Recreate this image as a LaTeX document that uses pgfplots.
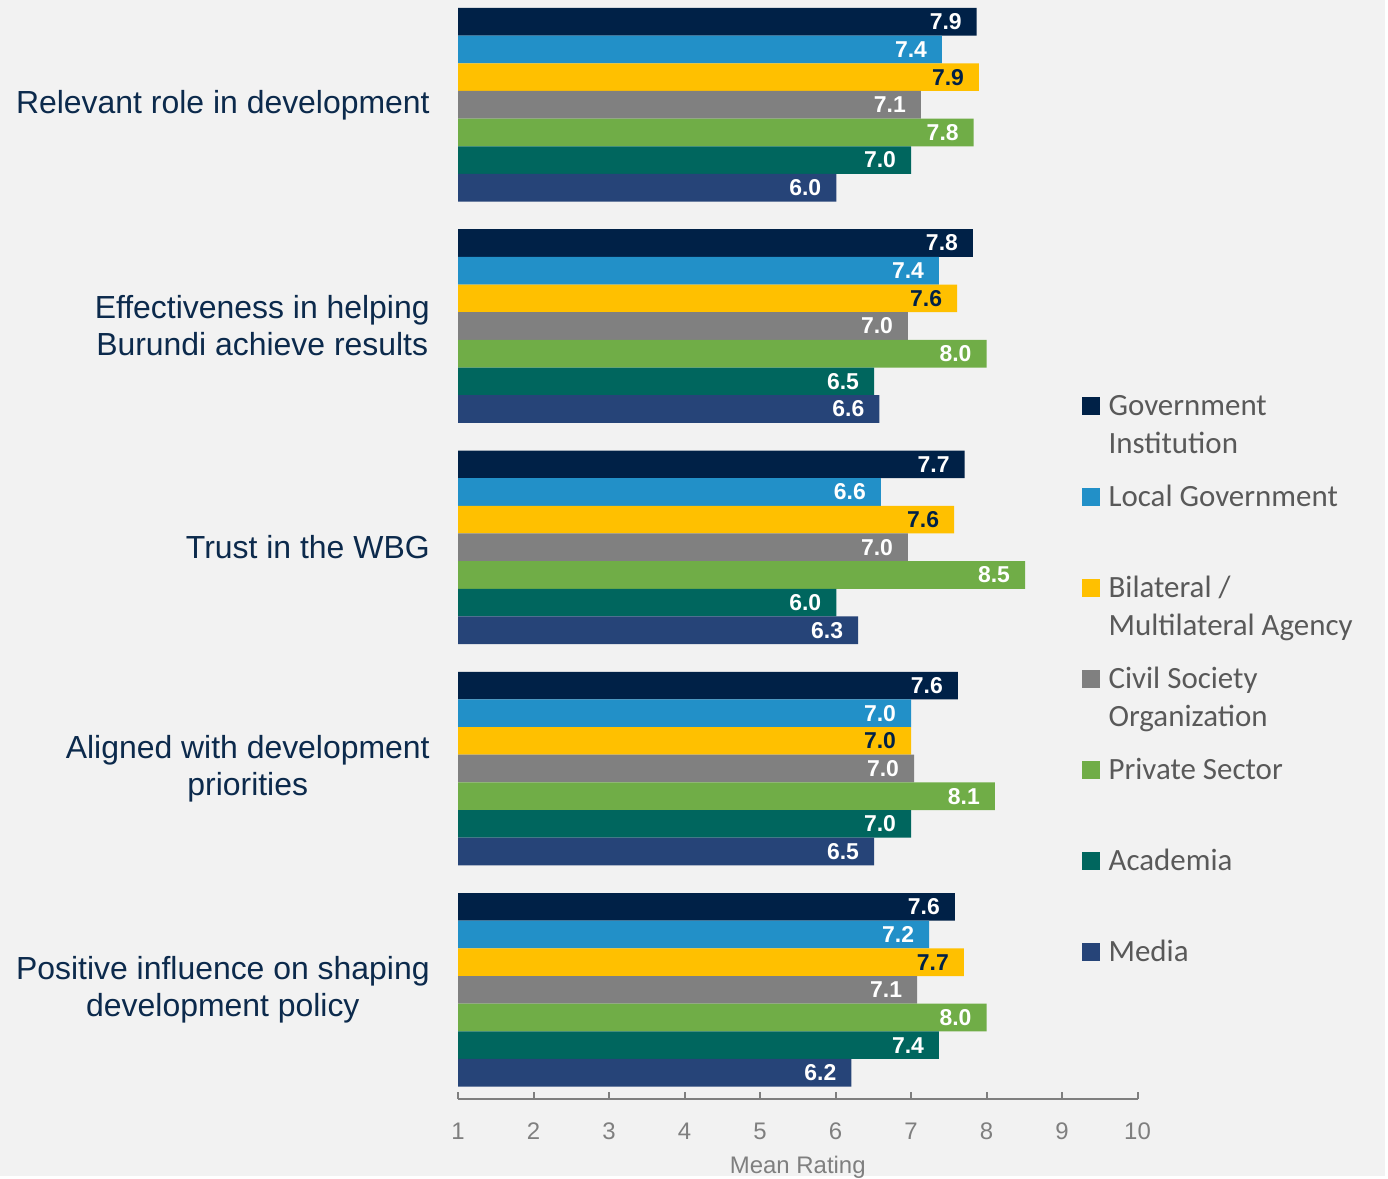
\documentclass[border=0pt]{standalone}
\usepackage{fontspec}
\setmainfont{Liberation Sans}
\newfontfamily\legfont{Carlito}
\usepackage{pgfplots}
\pgfplotsset{compat=1.18}

\definecolor{bg}{HTML}{F2F2F2}
\definecolor{gov}{RGB}{0,33,71}
\definecolor{local}{RGB}{34,144,200}
\definecolor{bilat}{HTML}{FFC000}
\definecolor{cso}{HTML}{808080}
\definecolor{private}{HTML}{70AD47}
\definecolor{academia}{HTML}{00665E}
\definecolor{media}{HTML}{264478}
\definecolor{catnavy}{RGB}{12,42,76}
\definecolor{leggray}{HTML}{595959}
\definecolor{axisgray}{HTML}{7F7F7F}

% square legend marks
\pgfplotsset{sqlegend/.style={legend image code/.code={\fill[##1] (0pt,0pt) rectangle (9pt,9pt);}}}

\begin{document}
\begin{tikzpicture}
\fill[bg] (0,0) rectangle (694pt,589.5pt);
\begin{axis}[
  at={(229.5pt,39pt)}, anchor=south west,
  scale only axis, width=340.5pt, height=550.5pt,
  xbar, bar width=1, bar shift=0pt,
  xmin=1, xmax=10, ymin=-38.933, ymax=0.789,
  axis x line*=bottom, axis y line*=left,
  axis line style={-},
  y axis line style={draw=none},
  x axis line style={draw=axisgray, line width=1pt},
  xtick={1,2,...,10}, xtick align=inside, ytick align=inside,
  major tick length=3.5pt,
  x tick style={draw=axisgray, line width=1pt},
  y tick style={draw=none},
  /pgf/number format/assume math mode=true,
  xticklabel style={font=\fontsize{12}{14}\selectfont, text=axisgray, inner sep=0pt, yshift=-12pt},
  xlabel={Mean Rating},
  xlabel style={at={(axis description cs:0.5,0)}, anchor=north, yshift=-28.5pt, inner sep=0pt,
    font=\fontsize{12}{14}\selectfont, text=axisgray},
  ytick={-3,-11,-19,-27,-35},
  yticklabels={Relevant role in development,
    {Effectiveness in helping\\Burundi achieve results},
    Trust in the WBG,
    {Aligned with development\\priorities},
    {Positive influence on shaping\\development policy}},
  yticklabel style={align=center, font=\fontsize{16}{18.5}\selectfont, text=catnavy, inner sep=0pt, xshift=-14pt},
  nodes near coords={\pgfmathprintnumber[fixed,fixed zerofill,precision=1]{\pgfplotspointmeta}},
  point meta=x,
  every node near coord/.append style={anchor=east, xshift=-4pt, font=\bfseries\fontsize{11.5}{13}\selectfont, text=white},
  legend style={at={(axis description cs:0.9178,0.6404)}, anchor=north west, draw=none, fill=none,
    inner sep=0pt, outer sep=0pt, row sep=33.35pt, column sep=4.5pt,
    font=\legfont\fontsize{15.5}{19}\selectfont, text=leggray,
    cells={anchor=base west}, nodes={inner sep=0pt}},
]
\addplot[fill=gov, draw=none, sqlegend] coordinates {(7.87,0) (7.82,-8) (7.71,-16) (7.62,-24) (7.58,-32)};
\addlegendentry{\parbox[t]{140pt}{Government\\Institution}}
\addplot[fill=local, draw=none, sqlegend] coordinates {(7.41,-1) (7.37,-9) (6.60,-17) (7.00,-25) (7.24,-33)};
\addlegendentry{\parbox[t]{140pt}{Local Government}}
\addplot[fill=bilat, draw=none, sqlegend, every node near coord/.append style={text=gov}] coordinates {(7.90,-2) (7.61,-10) (7.57,-18) (7.00,-26) (7.70,-34)};
\addlegendentry{\parbox[t]{140pt}{Bilateral /\\Multilateral Agency}}
\addplot[fill=cso, draw=none, sqlegend] coordinates {(7.13,-3) (6.96,-11) (6.96,-19) (7.04,-27) (7.08,-35)};
\addlegendentry{\parbox[t]{140pt}{Civil Society\\Organization}}
\addplot[fill=private, draw=none, sqlegend] coordinates {(7.83,-4) (8.00,-12) (8.51,-20) (8.11,-28) (8.00,-36)};
\addlegendentry{\parbox[t]{140pt}{Private Sector}}
\addplot[fill=academia, draw=none, sqlegend] coordinates {(7.00,-5) (6.51,-13) (6.01,-21) (7.00,-29) (7.37,-37)};
\addlegendentry{\parbox[t]{140pt}{Academia}}
\addplot[fill=media, draw=none, sqlegend] coordinates {(6.01,-6) (6.58,-14) (6.30,-22) (6.51,-30) (6.21,-38)};
\addlegendentry{\parbox[t]{140pt}{Media}}
\end{axis}
\end{tikzpicture}
\end{document}
